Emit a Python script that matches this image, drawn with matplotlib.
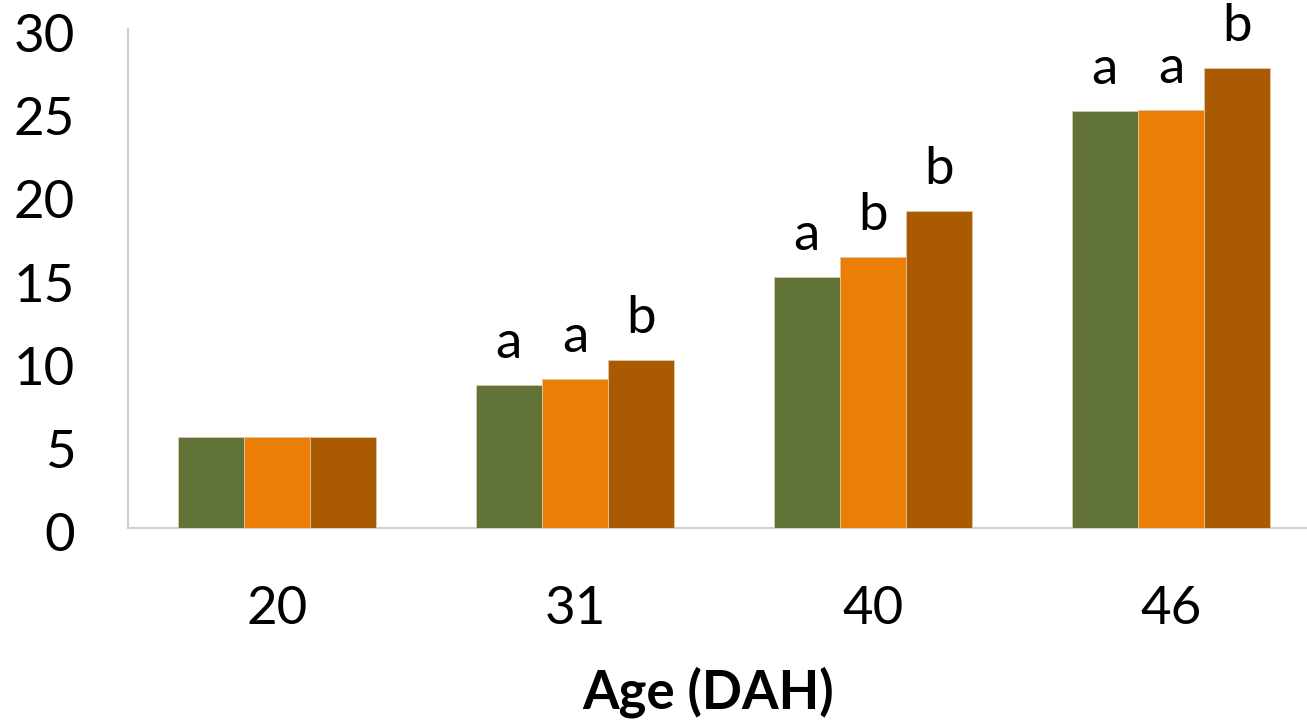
import numpy as np
import matplotlib
matplotlib.use("Agg")
import matplotlib.pyplot as plt
import matplotlib.transforms as mtransforms

# ----------------------------
# Data
# ----------------------------
ages = ["20", "31", "40", "46"]
series_a = [5.5, 8.6, 15.1, 25.05]
series_b = [5.5, 8.95, 16.3, 25.15]
series_c = [5.5, 10.1, 19.05, 27.65]
letters_a = ["", "a", "a", "a"]
letters_b = ["", "a", "b", "a"]
letters_c = ["", "b", "b", "b"]

colors = ["#627338", "#EB7F05", "#AA5A01"]

plt.rcParams["font.family"] = ["Lato", "DejaVu Sans"]

# ----------------------------
# Figure / axes
# ----------------------------
W, H = 1307, 724
fig = plt.figure(figsize=(W / 100, H / 100), dpi=100)
x0, x1 = 128, 1320
y0, y1 = 528, 29
ax = fig.add_axes([x0 / W, 1 - y0 / H, (x1 - x0) / W, (y0 - y1) / H])

x = np.arange(len(ages))
bw = 0.667 / 3
all_series = [series_a, series_b, series_c]
all_letters = [letters_a, letters_b, letters_c]

for k, (vals, labs) in enumerate(zip(all_series, all_letters)):
    pos = x + (k - 1) * bw
    ax.bar(pos, vals, width=bw, color=colors[k], edgecolor="#d9c8b0",
           linewidth=0.6, zorder=3)
    for px, v, lab in zip(pos, vals, labs):
        if lab:
            ax.annotate(lab, (px, v), xytext=(0, 19.5), textcoords="offset points",
                        ha="center", va="baseline", fontsize=38)

ax.set_xlim(-0.5, 3.5)
ax.set_ylim(0, 30)
ax.set_yticks(np.arange(0, 31, 5))
ax.set_xticks(x)
ax.set_xticklabels(ages)

for s in ["top", "right"]:
    ax.spines[s].set_visible(False)
for s in ["left", "bottom"]:
    ax.spines[s].set_color("#d0d0d0")
    ax.spines[s].set_linewidth(1.5)

ax.tick_params(axis="both", length=0, labelsize=38)
ax.tick_params(axis="x", pad=42)
ax.tick_params(axis="y", pad=38)

# nudge y labels slightly below their ticks
shift = mtransforms.ScaledTranslation(0, -4 / 100, fig.dpi_scale_trans)
for lbl in ax.get_yticklabels():
    lbl.set_transform(lbl.get_transform() + shift)

fig.text(708 / W, 1 - 692 / H, "Age (DAH)", ha="center", va="center",
         fontsize=38, fontweight="bold")

fig.savefig("out.png", dpi=100)
